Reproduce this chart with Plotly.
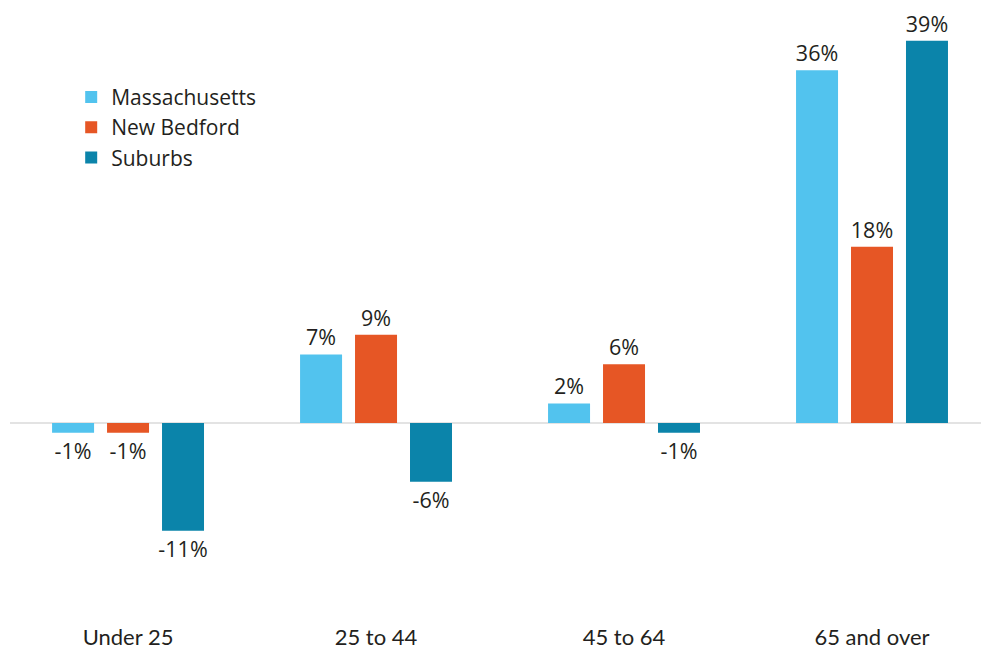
import plotly.graph_objects as go

categories = ["Under 25", "25 to 44", "45 to 64", "65 and over"]
massachusetts = [-1, 7, 2, 36]
new_bedford = [-1, 9, 6, 18]
suburbs = [-11, -6, -1, 39]

series = [
    ("Massachusetts", massachusetts, "#52c3ee"),
    ("New Bedford", new_bedford, "#e65625"),
    ("Suburbs", suburbs, "#0b84aa"),
]

fig = go.Figure()
for name, vals, color in series:
    fig.add_trace(go.Bar(
        x=categories, y=vals, name=name,
        marker=dict(color=color, line=dict(width=0)),
        text=[f"{v}%" for v in vals], textposition="outside",
        textfont=dict(size=21.5, color="#231f20", family="Open Sans"),
        constraintext="none",
        cliponaxis=False,
    ))

fig.update_layout(
    width=989, height=656,
    margin=dict(l=2, r=0, t=0, b=42),
    paper_bgcolor="white", plot_bgcolor="white",
    barmode="group", bargap=0.335, bargroupgap=0.236,
    font=dict(family="Open Sans", color="#231f20"),
    showlegend=True,
    legend=dict(x=0.062, y=0.888, xanchor="left", yanchor="top",
                font=dict(size=21, family="Open Sans", color="#231f20"),
                bgcolor="rgba(0,0,0,0)", tracegroupgap=0),
    xaxis=dict(range=[-0.476, 3.504], showgrid=False, showline=False,
               ticks="", tickfont=dict(size=22, family="Lato", color="#231f20")),
    yaxis=dict(range=[-20.3, 42.35], visible=True, showgrid=False, showticklabels=False,
               zeroline=True, zerolinecolor="#e3e3e3", zerolinewidth=2, ticks=""),
)

fig.write_html("out.html")
